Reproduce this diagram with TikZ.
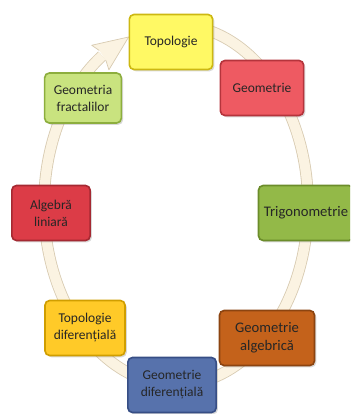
\documentclass[tikz,border=0pt]{standalone}
\usepackage{fontspec}
\setmainfont{Carlito}
\usetikzlibrary{shadows}

\definecolor{ringfill}{HTML}{FBF3E2}
\definecolor{ringline}{HTML}{D8CBB2}
\definecolor{topofill}{HTML}{FFF964}
\definecolor{topoline}{HTML}{CDB812}
\definecolor{geomfill}{HTML}{EE5A62}
\definecolor{geomline}{HTML}{B5343C}
\definecolor{trigfill}{HTML}{93B948}
\definecolor{trigline}{HTML}{6B8C2A}
\definecolor{galgfill}{HTML}{C4621B}
\definecolor{galgline}{HTML}{8C4410}
\definecolor{gdiffill}{HTML}{5772AC}
\definecolor{gdifline}{HTML}{374E85}
\definecolor{tdiffill}{HTML}{FFCA28}
\definecolor{tdifline}{HTML}{D09E00}
\definecolor{algfill}{HTML}{DC3C47}
\definecolor{algline}{HTML}{A52932}
\definecolor{fracfill}{HTML}{C9E37F}
\definecolor{fracline}{HTML}{8DAE3E}

\tikzset{
  topic/.style={draw, line width=1.4pt, rounded corners=4pt,
    minimum width=2.5cm, minimum height=1.65cm, align=center,
    text=black!85, font=\fontsize{11.5}{14.5}\selectfont,
    drop shadow={opacity=0.3, shadow xshift=1.5pt, shadow yshift=-1.5pt}},
  bigtopic/.style={topic, minimum width=2.85cm, font=\fontsize{12.5}{15.5}\selectfont},
}

\begin{document}
\begin{tikzpicture}[x=0.03cm, y=0.03cm]
\clip (0,0) rectangle (350,414);
% the ring behind the boxes
\coordinate (c) at (176,209);
\draw[ringline, line width=0.35cm] ([shift={(85:132 and 180)}]c)
    arc[start angle=85, end angle=-236, x radius=132, y radius=180];
\draw[ringfill, line width=0.3cm] ([shift={(86:132 and 180)}]c)
    arc[start angle=86, end angle=-236, x radius=132, y radius=180];
% arrow head
\coordinate (tip) at ([shift={(111:132 and 180)}]c);
\coordinate (b1) at ([shift={(125:147 and 195)}]c);
\coordinate (b2) at ([shift={(125:117 and 165)}]c);
\coordinate (o1) at ([shift={(123.8:138 and 186)}]c);
\coordinate (o2) at ([shift={(123.8:126 and 174)}]c);
\fill[ringfill] (o1) -- (b1) -- (tip) -- (b2) -- (o2) -- cycle;
\draw[ringline, line width=0.6pt, line join=round] (o1) -- (b1) -- (tip) -- (b2) -- (o2);

\node[topic, fill=topofill, draw=topoline] (topo) at (171,372) {Topologie};
\node[topic, fill=geomfill, draw=geomline] (geom) at (262,326) {Geometrie};
\node[bigtopic, fill=trigfill, draw=trigline] (trig) at (306,201) {Trigonometrie};
\node[bigtopic, fill=galgfill, draw=galgline] (galg) at (267,76) {Geometrie\\algebrică};
\node[topic, minimum width=2.65cm, fill=gdiffill, draw=gdifline] (gdif) at (172,29) {Geometrie\\diferențială};
\node[topic, minimum width=2.4cm, fill=tdiffill, draw=tdifline] (tdif) at (85,86) {Topologie\\diferențială};
\node[topic, minimum width=2.35cm, fill=algfill, draw=algline] (alg) at (51,201) {Algebră\\liniară};
\node[topic, minimum width=2.3cm, minimum height=1.5cm, fill=fracfill, draw=fracline] (frac) at (83,316) {Geometria\\fractalilor};
\end{tikzpicture}
\end{document}
